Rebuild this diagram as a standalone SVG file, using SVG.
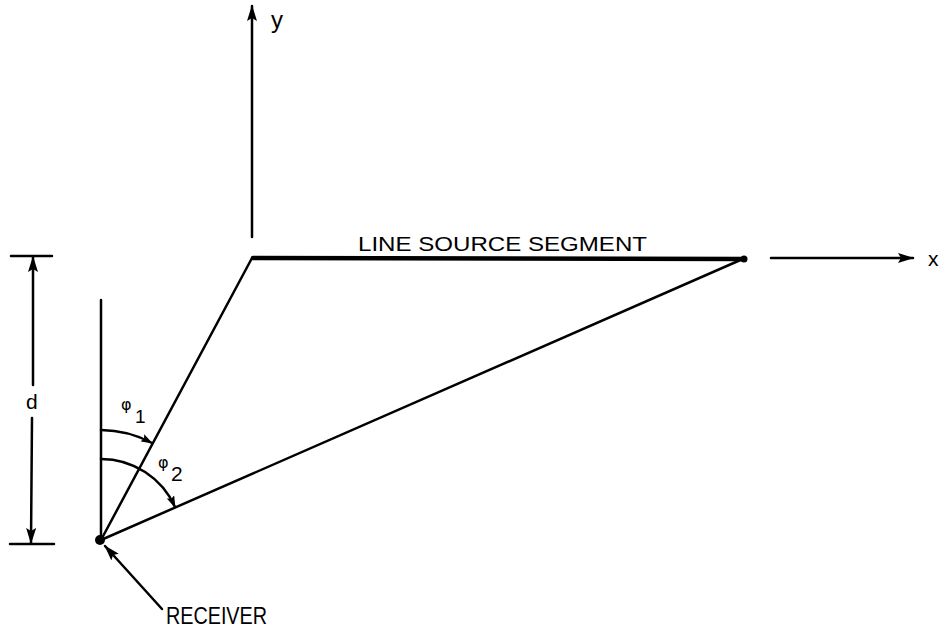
<svg xmlns="http://www.w3.org/2000/svg" width="940" height="632" viewBox="0 0 940 632">
<defs>
<marker id="ah" markerUnits="userSpaceOnUse" markerWidth="16" markerHeight="10" viewBox="0 0 16 10" refX="15" refY="5" orient="auto">
<path d="M0,0 L16,5 L0,10 L3,5 Z" fill="#000"/>
</marker>
<marker id="ahs" markerUnits="userSpaceOnUse" markerWidth="12" markerHeight="8" viewBox="0 0 12 8" refX="11" refY="4" orient="auto">
<path d="M0,0 L12,4 L0,8 L2,4 Z" fill="#000"/>
</marker>
</defs>
<style>
.ln{stroke:#000;stroke-width:2.5;fill:none;stroke-linecap:round}
.th{stroke:#000;stroke-width:4.5;fill:none;stroke-linecap:round}
.lbl{font-family:"Liberation Sans","DejaVu Sans",sans-serif;fill:#000}
.gr{font-family:"DejaVu Sans","Liberation Sans",sans-serif;fill:#000}
</style>
<rect width="940" height="632" fill="#fff"/>
<g id="connectors">
<line class="ln" x1="252" y1="237" x2="252" y2="6" marker-end="url(#ah)"/>
<line class="ln" x1="771" y1="258" x2="913" y2="258" marker-end="url(#ah)"/>
<line class="ln" x1="101" y1="540" x2="252" y2="258"/>
<line class="ln" x1="101" y1="540" x2="745" y2="258"/>
<line class="ln" x1="101" y1="540" x2="101" y2="300"/>
<line class="ln" x1="11" y1="256" x2="52" y2="256"/>
<line class="ln" x1="10" y1="544" x2="54" y2="544"/>
<line class="ln" x1="33" y1="385" x2="33" y2="257" marker-end="url(#ah)"/>
<line class="ln" x1="32" y1="418" x2="31" y2="543" marker-end="url(#ah)"/>
<path class="ln" d="M101,430 A110,110 0 0 1 152,443" marker-end="url(#ahs)"/>
<path class="ln" d="M101,459 A81,81 0 0 1 175,507" marker-end="url(#ahs)"/>
<line class="ln" x1="162" y1="609" x2="105" y2="546" stroke-width="3" marker-end="url(#ah)"/>
</g>
<g id="segment">
<line class="th" x1="253" y1="258" x2="744" y2="259"/>
<circle cx="744" cy="259" r="3.5" fill="#000"/>
<text class="lbl" x="358" y="251" font-size="21" textLength="289" lengthAdjust="spacingAndGlyphs">LINE SOURCE SEGMENT</text>
</g>
<g id="receiver">
<circle cx="100" cy="540" r="5" fill="#000"/>
<text class="lbl" x="166" y="624" font-size="23" textLength="101" lengthAdjust="spacingAndGlyphs">RECEIVER</text>
</g>
<g id="labels">
<text class="lbl" x="271" y="28" font-size="24">y</text>
<text class="lbl" x="928" y="266" font-size="21">x</text>
<text class="lbl" x="26" y="409" font-size="21">d</text>
<text class="gr" x="121" y="410" font-size="16">φ</text>
<text class="lbl" x="135" y="423" font-size="19">1</text>
<text class="gr" x="158" y="468" font-size="16">φ</text>
<text class="lbl" x="171" y="481" font-size="21">2</text>
</g>
</svg>
